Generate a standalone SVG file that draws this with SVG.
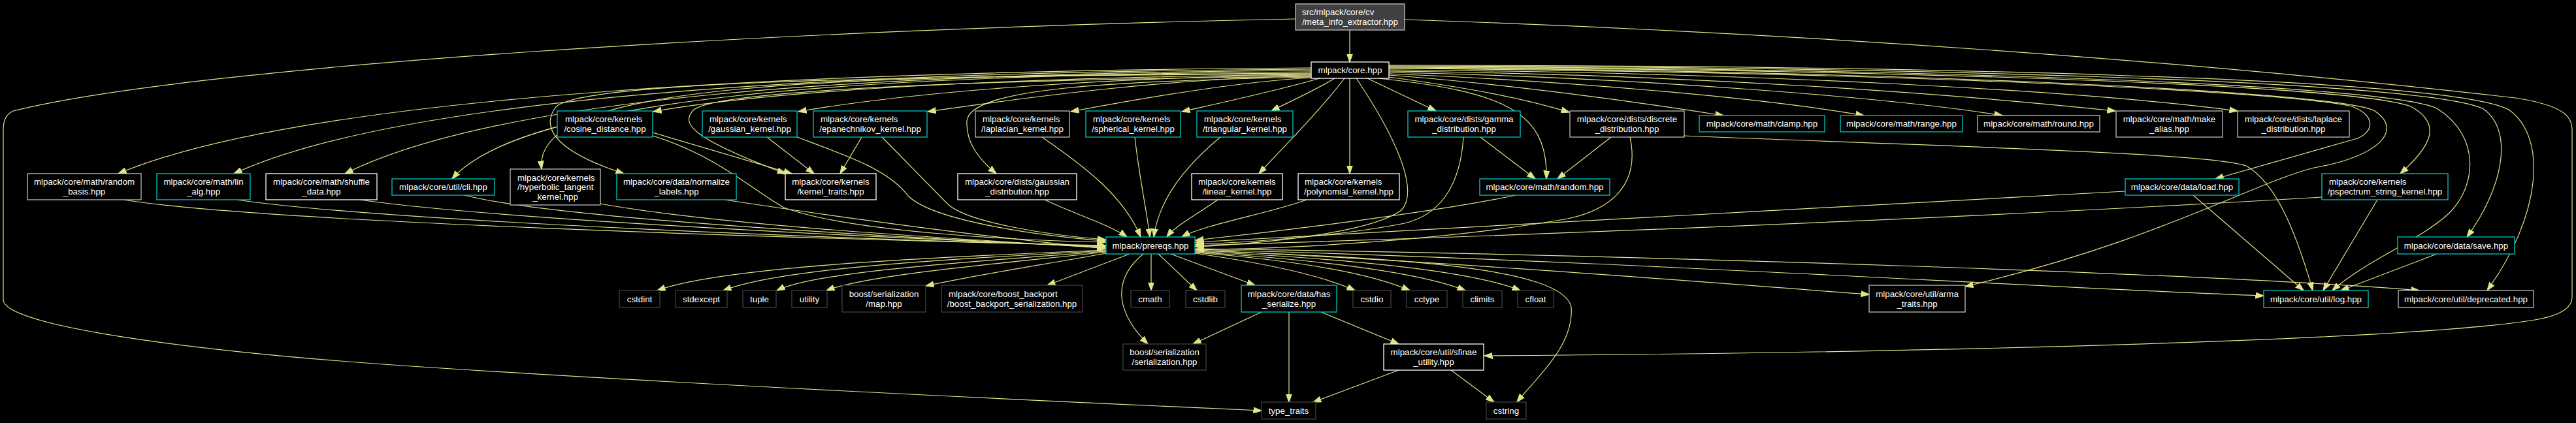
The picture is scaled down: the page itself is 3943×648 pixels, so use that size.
<svg xmlns="http://www.w3.org/2000/svg" width="3943" height="648" viewBox="0 0 3943 648">
<style>
.nd rect{fill:#000;stroke-width:1.3}
.w rect{stroke:#ffffff}
.g rect{stroke:#bfbfbf}
.c rect{stroke:#00c8c8}
.s rect{stroke:#404040}
.nd text{font-family:"Liberation Sans",Arial,Helvetica,sans-serif;font-size:13.33px;fill:#ffffff}
.m{text-anchor:middle}
.e path{fill:none;stroke:#e3e388;stroke-width:1.2;marker-end:url(#a)}
</style>
<defs>
<marker id="a" markerWidth="13" markerHeight="10" refX="12.5" refY="5" orient="auto" markerUnits="userSpaceOnUse" viewBox="0 0 13 10"><path d="M0,0.5 L13,5 L0,9.5 z" fill="#e3e388" stroke="#e3e388" stroke-width="1"/></marker>
</defs>
<rect x="0" y="0" width="3943" height="648" fill="#000"/>
<g class="e" id="edges">
<path d="M2066,46 L2066,95"/>
<path d="M1983,29 C1200,45 300,100 20,170 C8,176 5,186 5,200 L5,460 C10,500 300,540 660,563 C1000,585 1500,610 1931,629"/>
<path d="M2150,30 C2900,55 3500,110 3850,150 C3928,162 3937,180 3937,200 L3937,455 C3937,475 3910,485 3880,490 C3700,520 3000,540 2272,545"/>
<path d="M2007,104 C1300,108 480,140 181,266"/>
<path d="M2007,106 C1300,110 620,145 358,266"/>
<path d="M2007,108 C1300,112 760,150 528,266"/>
<path d="M2007,110 C1300,114 800,150 692,274"/>
<path d="M2007,112 C1250,116 815,125 829,259"/>
<path d="M2007,113 C1350,117 880,125 850,165 C825,200 860,235 955,266"/>
<path d="M2007,114 C1600,118 1200,135 1000,171"/>
<path d="M2007,115 C1700,118 1400,140 1222,171"/>
<path d="M2007,116 C1800,120 1600,145 1420,171"/>
<path d="M2007,117 C1500,122 1100,138 1062,168 C1040,190 1060,212 1202,266"/>
<path d="M2007,118 C1700,124 1485,135 1480,185 C1478,220 1500,245 1525,266"/>
<path d="M2007,119 C1900,125 1750,150 1639,171"/>
<path d="M2020,120 C1950,140 1880,155 1809,171"/>
<path d="M2043,120 C2010,140 1975,155 1946,170"/>
<path d="M2058,120 C2020,170 1960,230 1927,266"/>
<path d="M2066,120 L2066,266"/>
<path d="M2076,120 C2130,200 2175,290 2145,322 C2100,355 1950,372 1830,378"/>
<path d="M2093,120 L2198,170"/>
<path d="M2110,120 C2300,140 2370,170 2367,274"/>
<path d="M2126,118 C2250,135 2330,150 2402,172"/>
<path d="M2126,115 C2300,128 2500,155 2638,177"/>
<path d="M2126,113 C2400,124 2700,150 2853,177"/>
<path d="M2126,111 C2500,118 2900,150 3065,177"/>
<path d="M2126,109 C2600,114 3000,145 3238,170"/>
<path d="M2126,107 C2700,111 3200,140 3425,170"/>
<path d="M2126,105 C2900,110 3500,140 3600,163 C3640,178 3632,205 3605,213 L3391,274"/>
<path d="M2126,104 C2900,108 3580,140 3635,170 C3680,200 3640,240 3542,257 C3450,280 3300,370 3008,439"/>
<path d="M2126,103 C2900,106 3600,130 3690,163 C3740,190 3720,225 3674,266"/>
<path d="M2126,102 C2900,104 3650,128 3730,166 C3800,210 3790,290 3745,330 C3700,370 3620,400 3570,445"/>
<path d="M2126,101 C2900,102 3700,123 3800,166 C3850,200 3830,290 3776,363"/>
<path d="M2126,100 C2900,100 3750,118 3840,168 C3900,210 3890,330 3807,445"/>
<path d="M999,203 L1212,266"/>
<path d="M999,208 C1100,240 1150,290 1200,318 C1300,355 1550,368 1692,371"/>
<path d="M1174,210 L1246,266"/>
<path d="M1220,210 C1300,240 1360,260 1390,300 C1430,340 1600,362 1692,369"/>
<path d="M1319,210 L1286,266"/>
<path d="M1350,210 L1451,313 C1480,340 1600,360 1692,367"/>
<path d="M1595,210 C1660,255 1720,300 1746,363"/>
<path d="M1737,210 C1745,280 1755,320 1760,363"/>
<path d="M1868,210 C1820,250 1775,300 1766,363"/>
<path d="M2266,210 L2350,274"/>
<path d="M2240,210 C2235,290 2200,330 2150,342 C2050,362 1900,372 1830,374"/>
<path d="M2466,210 L2384,274"/>
<path d="M2495,210 C2510,280 2470,320 2400,335 C2200,370 1950,382 1830,382"/>
<path d="M2578,208 C3000,225 3400,235 3440,255 C3480,280 3510,340 3540,445"/>
<path d="M189,306 C400,340 1200,365 1692,376"/>
<path d="M362,306 C600,340 1300,366 1692,377"/>
<path d="M551,306 C750,335 1300,362 1692,378"/>
<path d="M711,299 C850,335 1350,362 1692,379"/>
<path d="M919,312 C1100,345 1450,365 1692,380"/>
<path d="M1109,306 C1300,335 1500,362 1692,381"/>
<path d="M1599,306 C1650,330 1700,345 1725,363"/>
<path d="M1864,306 C1830,330 1800,345 1786,363"/>
<path d="M2000,306 C1950,325 1840,345 1809,363"/>
<path d="M2320,299 C2200,325 1950,355 1830,368"/>
<path d="M3253,293 C2800,318 2200,350 1830,371"/>
<path d="M3554,302 C3000,335 2300,362 1830,376"/>
<path d="M3357,299 L3526,445"/>
<path d="M3639,306 L3556,445"/>
<path d="M3730,389 L3583,445"/>
<path d="M1693,383 C1400,395 1100,410 1006,445"/>
<path d="M1693,384 C1450,397 1200,410 1107,445"/>
<path d="M1693,385 C1500,400 1250,415 1189,445"/>
<path d="M1693,386 C1550,402 1330,420 1265,445"/>
<path d="M1693,388 C1600,405 1500,420 1417,438"/>
<path d="M1729,389 L1603,437"/>
<path d="M1762,389 L1762,445"/>
<path d="M1773,389 L1832,445"/>
<path d="M1792,389 L1921,437"/>
<path d="M1750,389 C1700,430 1710,480 1757,527"/>
<path d="M1829,388 C1950,405 2030,425 2074,445"/>
<path d="M1829,387 C2000,400 2100,420 2158,445"/>
<path d="M1829,386 C2050,400 2180,420 2243,445"/>
<path d="M1829,385 C2100,398 2260,418 2327,445"/>
<path d="M1829,384 C2150,395 2390,410 2405,470 C2410,530 2350,580 2322,616"/>
<path d="M1829,383 C2300,405 2700,440 2861,451"/>
<path d="M1829,382 C2500,400 3100,440 3465,453"/>
<path d="M1829,381 C2500,390 3400,420 3703,445"/>
<path d="M1931,478 L1826,527"/>
<path d="M1973,478 L1973,616"/>
<path d="M2022,478 L2141,527"/>
<path d="M2141,567 L2010,616"/>
<path d="M2221,567 L2287,616"/>
</g>
<g id="n_root" class="nd g"><rect x="1983" y="6" width="167" height="40" style="fill:#404040"/><text x="1993" y="23.4">src/mlpack/core/cv</text><text class="m" x="2066.5" y="38">/meta_info_extractor.hpp</text></g>
<g id="n_core" class="nd w"><rect x="2007" y="95" width="119" height="25"/><text class="m" x="2066.5" y="112.2">mlpack/core.hpp</text></g>
<g id="n_cosine" class="nd c"><rect x="853" y="170" width="146" height="40"/><text x="865" y="187.4">mlpack/core/kernels</text><text class="m" x="926" y="202">/cosine_distance.hpp</text></g>
<g id="n_gaussian_kernel" class="nd c"><rect x="1075" y="170" width="145" height="40"/><text x="1086" y="187.4">mlpack/core/kernels</text><text class="m" x="1147.5" y="202">/gaussian_kernel.hpp</text></g>
<g id="n_epanechnikov" class="nd c"><rect x="1245" y="170" width="174" height="40"/><text x="1256" y="187.4">mlpack/core/kernels</text><text class="m" x="1332" y="202">/epanechnikov_kernel.hpp</text></g>
<g id="n_laplacian" class="nd g"><rect x="1493" y="170" width="144" height="40"/><text x="1504" y="187.4">mlpack/core/kernels</text><text class="m" x="1565" y="202">/laplacian_kernel.hpp</text></g>
<g id="n_spherical" class="nd c"><rect x="1662" y="170" width="145" height="40"/><text x="1673" y="187.4">mlpack/core/kernels</text><text class="m" x="1734.5" y="202">/spherical_kernel.hpp</text></g>
<g id="n_triangular" class="nd c"><rect x="1832" y="170" width="147" height="40"/><text x="1843" y="187.4">mlpack/core/kernels</text><text class="m" x="1905.5" y="202">/triangular_kernel.hpp</text></g>
<g id="n_gamma" class="nd c"><rect x="2155" y="170" width="172" height="40"/><text class="m" x="2241" y="187.4">mlpack/core/dists/gamma</text><text class="m" x="2241" y="202">_distribution.hpp</text></g>
<g id="n_discrete" class="nd g"><rect x="2403" y="170" width="175" height="40"/><text class="m" x="2490.5" y="187.4">mlpack/core/dists/discrete</text><text class="m" x="2490.5" y="202">_distribution.hpp</text></g>
<g id="n_clamp" class="nd c"><rect x="2601" y="177" width="192" height="25"/><text class="m" x="2697" y="194.2">mlpack/core/math/clamp.hpp</text></g>
<g id="n_range" class="nd c"><rect x="2817" y="177" width="187" height="25"/><text class="m" x="2910.5" y="194.2">mlpack/core/math/range.hpp</text></g>
<g id="n_round" class="nd g"><rect x="3027" y="177" width="187" height="25"/><text class="m" x="3120.5" y="194.2">mlpack/core/math/round.hpp</text></g>
<g id="n_make_alias" class="nd g"><rect x="3239" y="170" width="163" height="40"/><text class="m" x="3320.5" y="187.4">mlpack/core/math/make</text><text class="m" x="3320.5" y="202">_alias.hpp</text></g>
<g id="n_laplace" class="nd g"><rect x="3425" y="170" width="171" height="40"/><text class="m" x="3510.5" y="187.4">mlpack/core/dists/laplace</text><text class="m" x="3510.5" y="202">_distribution.hpp</text></g>
<g id="n_random_basis" class="nd g"><rect x="42" y="266" width="174" height="40"/><text class="m" x="129" y="283.4">mlpack/core/math/random</text><text class="m" x="129" y="298">_basis.hpp</text></g>
<g id="n_lin_alg" class="nd c"><rect x="240" y="266" width="143" height="40"/><text class="m" x="311.5" y="283.4">mlpack/core/math/lin</text><text class="m" x="311.5" y="298">_alg.hpp</text></g>
<g id="n_shuffle" class="nd w"><rect x="407" y="266" width="170" height="40"/><text class="m" x="492" y="283.4">mlpack/core/math/shuffle</text><text class="m" x="492" y="298">_data.hpp</text></g>
<g id="n_cli" class="nd c"><rect x="600" y="274" width="157" height="25"/><text class="m" x="678.5" y="291.2">mlpack/core/util/cli.hpp</text></g>
<g id="n_hyperbolic" class="nd g"><rect x="781" y="259" width="138" height="55"/><text x="792" y="276.5">mlpack/core/kernels</text><text x="792" y="291.2">/hyperbolic_tangent</text><text class="m" x="850" y="305.9">_kernel.hpp</text></g>
<g id="n_normalize" class="nd c"><rect x="944" y="266" width="183" height="40"/><text class="m" x="1035.5" y="283.4">mlpack/core/data/normalize</text><text class="m" x="1035.5" y="298">_labels.hpp</text></g>
<g id="n_kernel_traits" class="nd w"><rect x="1202" y="266" width="139" height="40"/><text class="m" x="1271.5" y="283.4">mlpack/core/kernels</text><text class="m" x="1271.5" y="298">/kernel_traits.hpp</text></g>
<g id="n_gaussian_dist" class="nd w"><rect x="1466" y="266" width="182" height="40"/><text class="m" x="1557" y="283.4">mlpack/core/dists/gaussian</text><text class="m" x="1557" y="298">_distribution.hpp</text></g>
<g id="n_linear" class="nd w"><rect x="1824" y="266" width="139" height="40"/><text class="m" x="1893.5" y="283.4">mlpack/core/kernels</text><text class="m" x="1893.5" y="298">/linear_kernel.hpp</text></g>
<g id="n_polynomial" class="nd w"><rect x="1987" y="266" width="155" height="40"/><text x="1997" y="283.4">mlpack/core/kernels</text><text class="m" x="2064.5" y="298">/polynomial_kernel.hpp</text></g>
<g id="n_random" class="nd c"><rect x="2265" y="274" width="199" height="25"/><text class="m" x="2364.5" y="291.2">mlpack/core/math/random.hpp</text></g>
<g id="n_load" class="nd c"><rect x="3253" y="274" width="174" height="25"/><text class="m" x="3340" y="291.2">mlpack/core/data/load.hpp</text></g>
<g id="n_pspectrum" class="nd c"><rect x="3554" y="266" width="193" height="40"/><text x="3565" y="283.4">mlpack/core/kernels</text><text class="m" x="3650.5" y="298">/pspectrum_string_kernel.hpp</text></g>
<g id="n_prereqs" class="nd c"><rect x="1693" y="363" width="136" height="26"/><text class="m" x="1761" y="380.7">mlpack/prereqs.hpp</text></g>
<g id="n_save" class="nd c"><rect x="3670" y="363" width="179" height="26"/><text class="m" x="3759.5" y="380.7">mlpack/core/data/save.hpp</text></g>
<g id="n_cstdint" class="nd s"><rect x="948" y="445" width="62" height="26"/><text class="m" x="979" y="462.7">cstdint</text></g>
<g id="n_stdexcept" class="nd s"><rect x="1034" y="445" width="79" height="26"/><text class="m" x="1073.5" y="462.7">stdexcept</text></g>
<g id="n_tuple" class="nd s"><rect x="1137" y="445" width="51" height="26"/><text class="m" x="1162.5" y="462.7">tuple</text></g>
<g id="n_utility" class="nd s"><rect x="1212" y="445" width="54" height="26"/><text class="m" x="1239" y="462.7">utility</text></g>
<g id="n_map" class="nd s"><rect x="1289" y="437" width="128" height="41"/><text class="m" x="1353" y="454.9">boost/serialization</text><text class="m" x="1353" y="469.5">/map.hpp</text></g>
<g id="n_boost_backport" class="nd s"><rect x="1441" y="437" width="216" height="41"/><text x="1452" y="454.9">mlpack/core/boost_backport</text><text class="m" x="1549" y="469.5">/boost_backport_serialization.hpp</text></g>
<g id="n_cmath" class="nd s"><rect x="1731" y="445" width="59" height="26"/><text class="m" x="1760.5" y="462.7">cmath</text></g>
<g id="n_cstdlib" class="nd s"><rect x="1815" y="445" width="60" height="26"/><text class="m" x="1845" y="462.7">cstdlib</text></g>
<g id="n_has_serialize" class="nd c"><rect x="1900" y="437" width="146" height="41"/><text class="m" x="1973" y="454.9">mlpack/core/data/has</text><text class="m" x="1973" y="469.5">_serialize.hpp</text></g>
<g id="n_cstdio" class="nd s"><rect x="2071" y="445" width="58" height="26"/><text class="m" x="2100" y="462.7">cstdio</text></g>
<g id="n_cctype" class="nd s"><rect x="2153" y="445" width="62" height="26"/><text class="m" x="2184" y="462.7">cctype</text></g>
<g id="n_climits" class="nd s"><rect x="2239" y="445" width="60" height="26"/><text class="m" x="2269" y="462.7">climits</text></g>
<g id="n_cfloat" class="nd s"><rect x="2323" y="445" width="55" height="26"/><text class="m" x="2350.5" y="462.7">cfloat</text></g>
<g id="n_arma_traits" class="nd g"><rect x="2861" y="437" width="147" height="41"/><text class="m" x="2934.5" y="454.9">mlpack/core/util/arma</text><text class="m" x="2934.5" y="469.5">_traits.hpp</text></g>
<g id="n_log" class="nd c"><rect x="3465" y="445" width="160" height="26"/><text class="m" x="3545" y="462.7">mlpack/core/util/log.hpp</text></g>
<g id="n_deprecated" class="nd g"><rect x="3671" y="445" width="207" height="26"/><text class="m" x="3774.5" y="462.7">mlpack/core/util/deprecated.hpp</text></g>
<g id="n_serialization" class="nd s"><rect x="1719" y="527" width="127" height="40"/><text class="m" x="1782.5" y="544.4">boost/serialization</text><text class="m" x="1782.5" y="559">/serialization.hpp</text></g>
<g id="n_sfinae" class="nd w"><rect x="2118" y="527" width="153" height="40"/><text class="m" x="2194.5" y="544.4">mlpack/core/util/sfinae</text><text class="m" x="2194.5" y="559">_utility.hpp</text></g>
<g id="n_type_traits" class="nd s"><rect x="1931" y="616" width="83" height="26"/><text class="m" x="1972.5" y="633.7">type_traits</text></g>
<g id="n_cstring" class="nd s"><rect x="2275" y="616" width="61" height="26"/><text class="m" x="2305.5" y="633.7">cstring</text></g>
</svg>
